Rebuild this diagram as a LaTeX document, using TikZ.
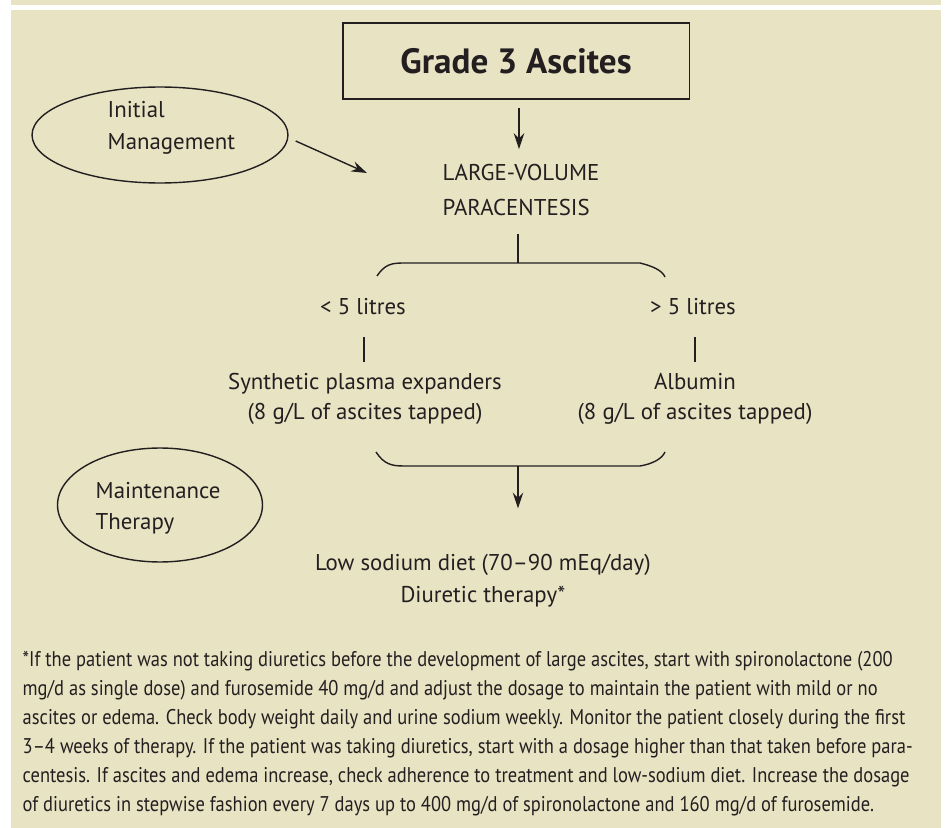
\documentclass[tikz,border=0pt]{standalone}
\usepackage{fontspec}
\setmainfont{PT Sans}
\newfontfamily\noteFont[FakeStretch=0.87,Ligatures=TeX]{PT Sans}
\usetikzlibrary{arrows.meta}
\usetikzlibrary{shapes.geometric}
\definecolor{paperColor}{HTML}{E8E3C3}
\definecolor{inkColor}{HTML}{231F20}
\tikzset{
  arr/.style={-{Stealth[length=9pt,width=6pt,inset=3pt]}},
  txt/.style={inner sep=0pt},
  bubble/.style={draw, ellipse, line width=0.8pt},
}

\begin{document}
\begin{tikzpicture}[x=0.02cm, y=-0.02cm, line width=0.8pt, color=inkColor]
          \useasboundingbox (0,0) rectangle (948,828);
          \fill[paperColor] (11,0) rectangle (941,5);
          \fill[paperColor] (11,10) rectangle (941,828);

          \node[draw, line width=1.1pt, minimum width=6.94cm, minimum height=1.52cm, font=\fontsize{20}{24}\selectfont\bfseries] (grade) at (516,61) {Grade 3 Ascites};
          \node[txt, align=left, anchor=west, font=\fontsize{13}{20.4}\selectfont] (lvp) at (442,190) {LARGE-VOLUME\\PARACENTESIS};
          \draw[arr, shorten <=4.5pt, shorten >=8pt] (grade.south -| 519,0) -- (lvp.north -| 519,0);

          \node[bubble, minimum width=5.12cm, minimum height=1.92cm] (init) at (160,135) {};
          \node[txt, align=left, anchor=west, font=\fontsize{13}{18.5}\selectfont] (initTxt) at (107,128) {Initial\\Management};
          \draw[arr] ([shift={(7,6)}]init.east) -- ([shift={(-75,-17)}]lvp.west);

          \coordinate (brTop) at (518,263);
          \draw[shorten <=10pt] (brTop |- lvp.south) -- (brTop);
          \draw (377,276) .. controls (385,264) and (392,263) .. (404,263) -- (640,263) .. controls (652,266) and (662,270) .. (665,277);

          \node[txt, font=\fontsize{13}{17}\selectfont] (lt5) at (363,307) {< 5 litres};
          \node[txt, font=\fontsize{13}{17}\selectfont] (gt5) at (693,307) {> 5 litres};

          \node[txt, align=center, font=\fontsize{13}{17}\selectfont] (syn) at (365,399) {Synthetic plasma expanders\\(8 g/L of ascites tapped)};
          \node[txt, align=center, font=\fontsize{13}{17}\selectfont] (alb) at (695,399) {Albumin\\(8 g/L of ascites tapped)};
          \draw[shorten <=12pt, shorten >=6pt] (lt5.south -| 364,0) -- (syn.north -| 364,0);
          \draw[shorten <=12pt, shorten >=6pt] (gt5.south -| 695,0) -- (alb.north -| 695,0);

          \coordinate (brBot) at (518,466);
          \draw (376,452) .. controls (384,464) and (391,466) .. (404,466) -- (640,466) .. controls (652,464) and (662,459) .. (665,452);

          \node[bubble, minimum width=4.1cm, minimum height=2.28cm] (maint) at (160,505) {};
          \node[txt, align=left, anchor=west, font=\fontsize{13}{17.6}\selectfont] (maintTxt) at (95,508) {Maintenance\\Therapy};

          \node[txt, align=center, font=\fontsize{13}{18}\selectfont] (diet) at (483,581) {Low sodium diet (70–90 mEq/day)\\Diuretic therapy*};
          \draw[arr, shorten >=26pt] (brBot) -- (brBot |- diet.north);

          \node[txt, align=left, anchor=north west, font=\noteFont\fontsize{12.1}{16.44}\selectfont] (note) at (22,651) {*If the patient was not taking diuretics before the development of large ascites, start with spironolactone (200\\mg/d as single dose) and furosemide 40 mg/d and adjust the dosage to maintain the patient with mild or no\\ascites or edema. Check body weight daily and urine sodium weekly. Monitor the patient closely during the first\\3–4 weeks of therapy. If the patient was taking diuretics, start with a dosage higher than that taken before para-\\centesis. If ascites and edema increase, check adherence to treatment and low-sodium diet. Increase the dosage\\of diuretics in stepwise fashion every 7 days up to 400 mg/d of spironolactone and 160 mg/d of furosemide.};
        \end{tikzpicture}
\end{document}
